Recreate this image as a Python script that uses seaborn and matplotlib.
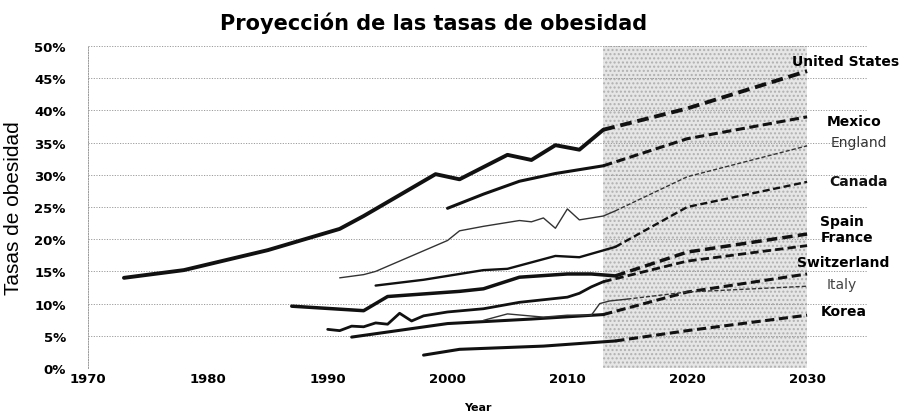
import numpy as np
import pandas as pd
import matplotlib
matplotlib.use("Agg")
import matplotlib.pyplot as plt
from matplotlib.ticker import FuncFormatter
import seaborn as sns

### Données
us_years = [1973, 1978, 1985, 1991, 1993, 1999, 2001, 2005, 2007, 2009, 2011, 2013]
us_rates = [14.0, 15.2, 18.3, 21.6, 23.6, 30.1, 29.3, 33.1, 32.3, 34.6, 33.9, 37.0]
us_proj_years = [2013, 2020, 2030]
us_proj = [37.0, 40.3, 46.1]

mx_years = [2000, 2003, 2006, 2009, 2013]
mx_rates = [24.8, 27.0, 29.0, 30.2, 31.4]
mx_proj_years = [2013, 2020, 2030]
mx_proj = [31.4, 35.6, 39.0]

en_years = [1991, 1993, 1994, 2000, 2001, 2003, 2006, 2007, 2008, 2009, 2010, 2011, 2013, 2014]
en_rates = [14.0, 14.5, 15.0, 19.8, 21.3, 22.0, 22.9, 22.7, 23.3, 21.7, 24.7, 23.0, 23.6, 24.4]
en_proj_years = [2014, 2020, 2030]
en_proj = [24.4, 29.7, 34.5]

ca_years = [1994, 1998, 2003, 2005, 2009, 2011, 2014]
ca_rates = [12.8, 13.7, 15.2, 15.4, 17.4, 17.2, 18.8]
ca_proj_years = [2014, 2020, 2030]
ca_proj = [18.8, 25.0, 28.9]

es_years = [1987, 1993, 1995, 2001, 2003, 2006, 2010, 2012, 2014]
es_rates = [9.6, 8.9, 11.1, 11.9, 12.3, 14.1, 14.6, 14.6, 14.3]
es_proj_years = [2014, 2020, 2030]
es_proj = [14.3, 18.0, 20.8]

fr_years = [1990, 1991, 1992, 1993, 1994, 1995, 1996, 1997, 1998, 2000, 2003, 2006, 2010, 2011, 2012, 2013]
fr_rates = [6.0, 5.8, 6.5, 6.4, 7.0, 6.8, 8.5, 7.3, 8.1, 8.7, 9.2, 10.2, 11.0, 11.6, 12.6, 13.4]
fr_proj_years = [2013, 2020, 2030]
fr_proj = [13.4, 16.6, 19.0]

ch_years = [1992, 2000, 2007, 2013]
ch_rates = [4.8, 6.9, 7.6, 8.3]
ch_proj_years = [2013, 2020, 2030]
ch_proj = [8.3, 11.8, 14.6]

it_years = [2003, 2005, 2008, 2010, 2012, 2012.7, 2013.5, 2015]
it_rates = [7.4, 8.4, 7.9, 8.2, 8.2, 10.0, 10.4, 10.7]
it_proj_years = [2015, 2020, 2030]
it_proj = [10.7, 11.8, 12.7]

kr_years = [1998, 2001, 2008, 2014]
kr_rates = [2.0, 2.9, 3.4, 4.2]
kr_proj_years = [2014, 2020, 2030]
kr_proj = [4.2, 5.8, 8.2]

labels = ["United States", "Mexico", "England", "Canada", "Spain",
          "France", "Switzerland", "Italy", "Korea"]
label_x = [2033.2, 2033.9, 2034.3, 2034.3, 2032.9, 2033.3, 2033.0, 2032.9, 2033.1]
label_y = [47.7, 38.4, 35.1, 29.0, 22.8, 20.3, 16.5, 13.0, 8.9]

###Styles
series = [
    (us_years, us_rates, us_proj_years, us_proj, 2.8, "#111111"),
    (mx_years, mx_rates, mx_proj_years, mx_proj, 2.2, "#111111"),
    (en_years, en_rates, en_proj_years, en_proj, 1.0, "#333333"),
    (ca_years, ca_rates, ca_proj_years, ca_proj, 1.7, "#111111"),
    (es_years, es_rates, es_proj_years, es_proj, 2.5, "#111111"),
    (fr_years, fr_rates, fr_proj_years, fr_proj, 2.0, "#111111"),
    (ch_years, ch_rates, ch_proj_years, ch_proj, 2.2, "#111111"),
    (it_years, it_rates, it_proj_years, it_proj, 1.0, "#333333"),
    (kr_years, kr_rates, kr_proj_years, kr_proj, 2.2, "#111111"),
]
label_weight = ["heavy", "heavy", "normal", "bold", "heavy", "heavy", "heavy", "normal", "heavy"]
label_color = ["#000000", "#000000", "#333333", "#111111", "#000000", "#000000", "#000000", "#444444", "#000000"]

sns.set_style("white")
plt.rcParams['font.family'] = ['DejaVu Sans']
plt.rcParams['text.color'] = "black"
plt.rcParams['xtick.color'] = "black"
plt.rcParams['ytick.color'] = "black"
plt.rcParams['axes.labelcolor'] = "black"

fig = plt.figure(figsize=(9.01, 4.14), dpi=100)
ax = fig.add_axes([88 / 901, 1 - 369 / 414, (867 - 88) / 901, (369 - 47) / 414])

# zone de projection
ax.axvspan(2013, 2030, facecolor="#e6e6e6", edgecolor="#b0b0b0", hatch="....",
           linewidth=0, zorder=-1)

for (x, y, px, py, lw, col), name in zip(series, labels):
    sns.lineplot(x=x, y=y, ax=ax, color=col, linewidth=lw, zorder=3)
    sns.lineplot(x=px, y=py, ax=ax, color=col, linewidth=lw, zorder=3,
                 linestyle=(0, (3.0, 1.5)))

for name, lx, ly, w, c in zip(labels, label_x, label_y, label_weight, label_color):
    ax.text(lx, ly, name, ha="center", va="center", fontsize=10,
            fontweight=w, color=c, clip_on=False)

ax.set_xlim(1970, 2035)
ax.set_ylim(0, 50)
ax.set_xticks(np.arange(1970, 2031, 10))
ax.set_yticks(np.arange(0, 51, 5))
ax.yaxis.set_major_formatter(FuncFormatter(lambda v, p: f"{v:.0f}%"))
ax.set_axisbelow(True)
ax.yaxis.grid(True, linestyle=(0, (1.2, 1.5)), color="#9a9a9a", linewidth=0.7)
ax.xaxis.grid(False)
for s in ["top", "right", "bottom"]:
    ax.spines[s].set_visible(False)
ax.spines["left"].set_color("#9a9a9a")
ax.spines["left"].set_linestyle((0, (1.2, 1.5)))
ax.spines["left"].set_linewidth(0.7)

ax.tick_params(axis="y", length=0, pad=16, labelsize=9.5)
ax.tick_params(axis="x", length=3, color="#9a9a9a", pad=3, labelsize=9.5, direction="in")
for t in ax.get_xticklabels() + ax.get_yticklabels():
    t.set_fontweight("bold")

ax.set_xlabel("Year", fontsize=8, fontweight="bold", labelpad=12)
ax.set_ylabel("Tasas de obesidad", fontsize=15, labelpad=8,
              family=["Liberation Sans Narrow", "Liberation Sans"])

fig.text(434 / 901, 1 - 23 / 414, "Proyección de las tasas de obesidad",
         ha="center", va="center", fontsize=15, fontweight="heavy", color="black")

fig.savefig("out.png", dpi=100)
